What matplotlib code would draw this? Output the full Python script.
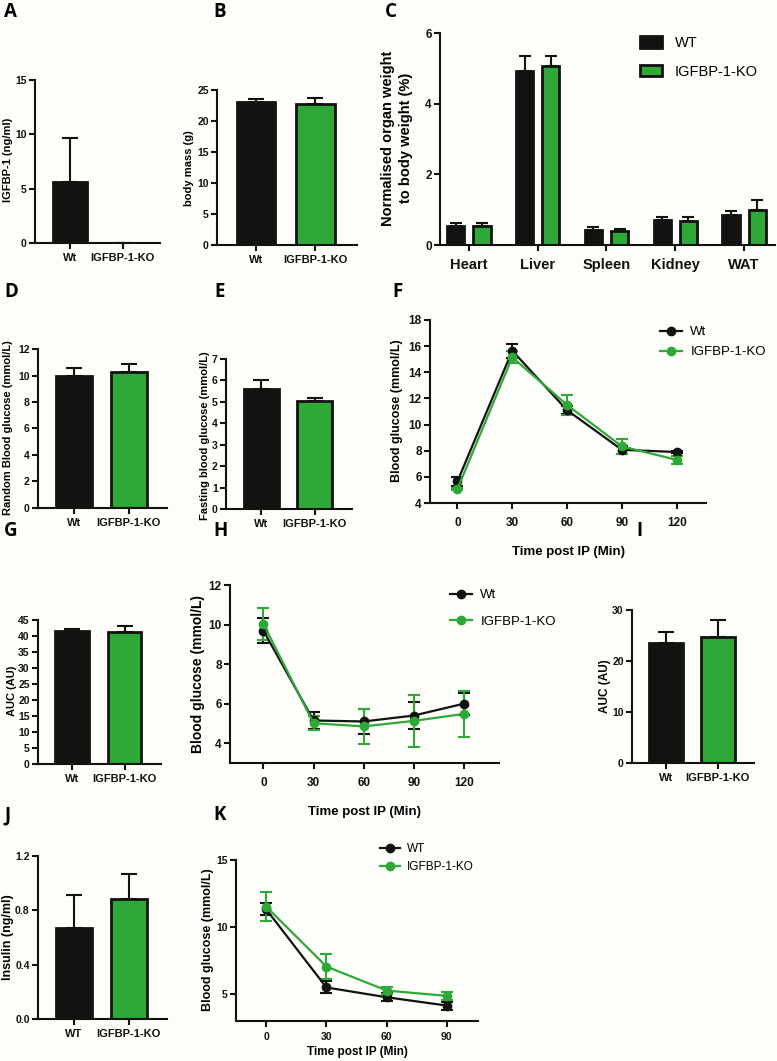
#!/usr/bin/env python3
"""IGFBP-1 knockout phenotype figure: panels A-K (bars + glucose/insulin tolerance curves)."""
import numpy as np
import matplotlib
matplotlib.use("Agg")
import matplotlib.pyplot as plt
from matplotlib.lines import Line2D
from matplotlib.patches import Patch

W, H = 777, 1061
BLACK = "#121210"
GREEN = "#2ea836"
BG = "#fdfdf9"

# ---- data ----
groups = ["Wt", "IGFBP-1-KO"]
groups_upper = ["WT", "IGFBP-1-KO"]

igfbp1_mean = [5.65, 0.0]
igfbp1_sem = [4.0, 0.0]

body_mass_mean = [23.0, 22.7]
body_mass_sem = [0.5, 1.0]

organs = ["Heart", "Liver", "Spleen", "Kidney", "WAT"]
organ_wt_mean = [0.55, 4.93, 0.43, 0.71, 0.85]
organ_wt_sem = [0.07, 0.43, 0.09, 0.07, 0.10]
organ_ko_mean = [0.55, 5.06, 0.40, 0.69, 0.99]
organ_ko_sem = [0.06, 0.28, 0.04, 0.09, 0.27]

random_glc_mean = [10.0, 10.3]
random_glc_sem = [0.55, 0.6]

fasting_glc_mean = [5.62, 5.05]
fasting_glc_sem = [0.4, 0.15]

gtt_time = [0, 30, 60, 90, 120]
gtt_wt_mean = [5.65, 15.65, 11.1, 8.07, 7.9]
gtt_wt_sem = [0.35, 0.55, 0.3, 0.3, 0.1]
gtt_ko_mean = [5.07, 15.15, 11.5, 8.33, 7.3]
gtt_ko_sem = [0.1, 0.45, 0.8, 0.6, 0.3]

gtt_auc_mean = [41.5, 41.1]
gtt_auc_sem = [0.8, 1.9]

itt_time = [0, 30, 60, 90, 120]
itt_wt_mean = [9.69, 5.15, 5.1, 5.4, 6.0]
itt_wt_sem = [0.62, 0.42, 0.65, 0.7, 0.55]
itt_ko_mean = [10.03, 5.01, 4.85, 5.13, 5.48]
itt_ko_sem = [0.82, 0.35, 0.87, 1.3, 1.15]

itt_auc_mean = [23.5, 24.8]
itt_auc_sem = [2.1, 3.2]

insulin_mean = [0.67, 0.88]
insulin_sem = [0.245, 0.19]

ptt_time = [0, 30, 60, 90]
ptt_wt_mean = [11.33, 5.5, 4.77, 4.15]
ptt_wt_sem = [0.45, 0.45, 0.3, 0.3]
ptt_ko_mean = [11.53, 7.06, 5.27, 4.87]
ptt_ko_sem = [1.05, 0.95, 0.25, 0.3]

plt.rcParams["font.family"] = ["Liberation Sans", "DejaVu Sans"]
plt.rcParams["font.weight"] = "bold"
plt.rcParams["axes.labelweight"] = "bold"

fig = plt.figure(figsize=(W / 100, H / 100), dpi=100, facecolor=BG)


def px_axes(x0, y0, x1, y1):
    return fig.add_axes([x0 / W, 1 - y1 / H, (x1 - x0) / W, (y1 - y0) / H])


def fig_text(x, y, s, **kw):
    return fig.text(x / W, 1 - y / H, s, **kw)


def style(ax, size=7.5):
    ax.set_facecolor("none")
    for side in ("top", "right"):
        ax.spines[side].set_visible(False)
    for side in ("left", "bottom"):
        ax.spines[side].set_linewidth(1.5)
        ax.spines[side].set_color(BLACK)
    ax.tick_params(direction="out", length=4, width=1.5, labelsize=size,
                   colors=BLACK, pad=2)


def bar_panel(ax, means, sems, labels, ylim, yticks, yticklabels=None):
    x = np.arange(len(means))
    ax.bar(x, means, width=0.65, color=[BLACK, GREEN], edgecolor=BLACK,
           linewidth=2, yerr=[np.zeros(len(sems)), sems], capsize=6,
           error_kw=dict(elinewidth=1.5, capthick=1.5, ecolor=BLACK))
    ax.set_xlim(-0.66, 1.7)
    ax.set_ylim(*ylim)
    ax.set_yticks(yticks)
    if yticklabels is not None:
        ax.set_yticklabels(yticklabels)
    ax.set_xticks(x, labels)
    style(ax)
    ax.tick_params(axis="x", labelsize=8, pad=3)


def line_panel(ax, t, wt, wt_err, ko, ko_err, xlim, ylim, yticks, size=8.5, xpad=6):
    for mean, err, color in ((wt, wt_err, BLACK), (ko, ko_err, GREEN)):
        ax.errorbar(t, mean, yerr=err, color=color, lw=1.6, marker="o", ms=6,
                    capsize=4, capthick=1.5, elinewidth=1.5)
    ax.set_xlim(*xlim)
    ax.set_ylim(*ylim)
    ax.set_xticks(t)
    ax.set_yticks(yticks)
    style(ax, size)
    ax.tick_params(axis="x", pad=xpad)


def line_legend(x, y, labels, size, spacing):
    handles = [Line2D([], [], color=c, marker="o", lw=1.6, ms=6) for c in (BLACK, GREEN)]
    fig.legend(handles, labels, loc="upper left", bbox_to_anchor=(x / W, 1 - y / H),
               frameon=False, prop={"weight": "normal", "size": size},
               handlelength=1.7, handletextpad=0.6, labelspacing=spacing,
               borderpad=0, borderaxespad=0)


# A - serum IGFBP-1
ax = px_axes(35, 80, 160, 243)
bar_panel(ax, igfbp1_mean, igfbp1_sem, groups, (0, 15), [0, 5, 10, 15])
fig_text(8, 160, "IGFBP-1 (ng/ml)", rotation=90, ha="center", va="center", fontsize=8)

# B - body mass
ax = px_axes(217, 90, 357, 245)
bar_panel(ax, body_mass_mean, body_mass_sem, groups, (0, 25), [0, 5, 10, 15, 20, 25])
fig_text(189, 168, "body mass (g)", rotation=90, ha="center", va="center", fontsize=8)

# C - organ weights
ax = px_axes(440, 33, 775, 245)
xg = np.arange(len(organs))
kw = dict(width=0.25, edgecolor=BLACK, linewidth=2, capsize=4,
          error_kw=dict(elinewidth=1.5, capthick=1.5, ecolor=BLACK))
ax.bar(xg - 0.19, organ_wt_mean, color=BLACK,
       yerr=[np.zeros(len(organs)), organ_wt_sem], **kw)
ax.bar(xg + 0.19, organ_ko_mean, color=GREEN,
       yerr=[np.zeros(len(organs)), organ_ko_sem], **kw)
ax.set_xlim(-0.42, 4.45)
ax.set_ylim(0, 6)
ax.set_yticks([0, 2, 4, 6])
ax.set_xticks(xg, organs)
style(ax, 8.5)
ax.tick_params(axis="x", labelsize=10.5, pad=5)
fig_text(397, 138, "Normalised organ weight\nto body weight (%)", rotation=90,
         ha="center", va="center", fontsize=10.5, linespacing=1.3)
fig.legend([Patch(facecolor=BLACK, edgecolor=BLACK, lw=2),
            Patch(facecolor=GREEN, edgecolor=BLACK, lw=2)], ["WT", "IGFBP-1-KO"],
           loc="upper left", bbox_to_anchor=(640 / W, 1 - 36 / H), frameon=False,
           prop={"weight": "normal", "size": 10.5}, handlelength=1.5,
           handleheight=0.8, handletextpad=0.9, labelspacing=1.0,
           borderpad=0, borderaxespad=0)

# D - random blood glucose
ax = px_axes(38, 349, 167, 508)
bar_panel(ax, random_glc_mean, random_glc_sem, groups, (0, 12), [0, 2, 4, 6, 8, 10, 12])
fig_text(8, 428, "Random Blood glucose (mmol/L)", rotation=90, ha="center",
         va="center", fontsize=8)

# E - fasting blood glucose
ax = px_axes(226, 359, 352, 509)
bar_panel(ax, fasting_glc_mean, fasting_glc_sem, groups, (0, 7), list(range(8)))
fig_text(205, 436, "Fasting blood glucose (mmol/L)", rotation=90, ha="center",
         va="center", fontsize=8)

# F - glucose tolerance test
ax = px_axes(430, 320, 706, 503)
line_panel(ax, gtt_time, gtt_wt_mean, gtt_wt_sem, gtt_ko_mean, gtt_ko_sem,
           (-15, 136), (4, 18), [4, 6, 8, 10, 12, 14, 16, 18])
ax.set_xlabel("Time post IP (Min)", fontsize=9.5, labelpad=12)
fig_text(397, 411, "Blood glucose (mmol/L)", rotation=90, ha="center",
         va="center", fontsize=9)
line_legend(660, 326, ["Wt", "IGFBP-1-KO"], 9.5, 0.6)

# G - GTT AUC
ax = px_axes(38, 620, 161, 764)
bar_panel(ax, gtt_auc_mean, gtt_auc_sem, groups, (0, 45), list(range(0, 46, 5)))
fig_text(12, 691, "AUC (AU)", rotation=90, ha="center", va="center", fontsize=8)

# H - insulin tolerance test
ax = px_axes(230, 585, 499, 763)
line_panel(ax, itt_time, itt_wt_mean, itt_wt_sem, itt_ko_mean, itt_ko_sem,
           (-20, 141), (3, 12), [4, 6, 8, 10, 12])
ax.set_xlabel("Time post IP (Min)", fontsize=9.5, labelpad=12)
fig_text(198, 674, "Blood glucose (mmol/L)", rotation=90, ha="center",
         va="center", fontsize=10)
line_legend(450, 589, ["Wt", "IGFBP-1-KO"], 9.5, 1.1)

# I - ITT AUC
ax = px_axes(632, 610, 754, 763)
bar_panel(ax, itt_auc_mean, itt_auc_sem, groups, (0, 30), [0, 10, 20, 30])
fig_text(605, 686, "AUC (AU)", rotation=90, ha="center", va="center", fontsize=8.5)

# J - insulin
ax = px_axes(38, 856, 167, 1019)
bar_panel(ax, insulin_mean, insulin_sem, groups_upper, (0, 1.2), [0, 0.4, 0.8, 1.2],
          ["0.0", "0.4", "0.8", "1.2"])
fig_text(8, 937, "Insulin (ng/ml)", rotation=90, ha="center", va="center", fontsize=9)

# K - pyruvate tolerance test
ax = px_axes(236, 860, 478, 1021)
line_panel(ax, ptt_time, ptt_wt_mean, ptt_wt_sem, ptt_ko_mean, ptt_ko_sem,
           (-15, 105.5), (3, 15), [5, 10, 15], size=7.5, xpad=4)
fig_text(357, 1052, "Time post IP (Min)", ha="center", va="center", fontsize=8.5)
fig_text(208, 940, "Blood glucose (mmol/L)", rotation=90, ha="center",
         va="center", fontsize=9)
line_legend(380, 843, ["WT", "IGFBP-1-KO"], 8.5, 0.5)

# panel letters
for letter, x, y in [("A", 4, 12), ("B", 213, 12), ("C", 385, 12),
                     ("D", 4, 292), ("E", 214, 292), ("F", 392, 292),
                     ("G", 4, 531), ("H", 213, 531), ("I", 636, 531),
                     ("J", 4, 815), ("K", 213, 815)]:
    fig_text(x, y, letter, ha="left", va="center", fontsize=13.5,
             fontweight="bold", family=["Open Sans", "DejaVu Sans"])

fig.savefig("out.png", dpi=100, facecolor=BG)
